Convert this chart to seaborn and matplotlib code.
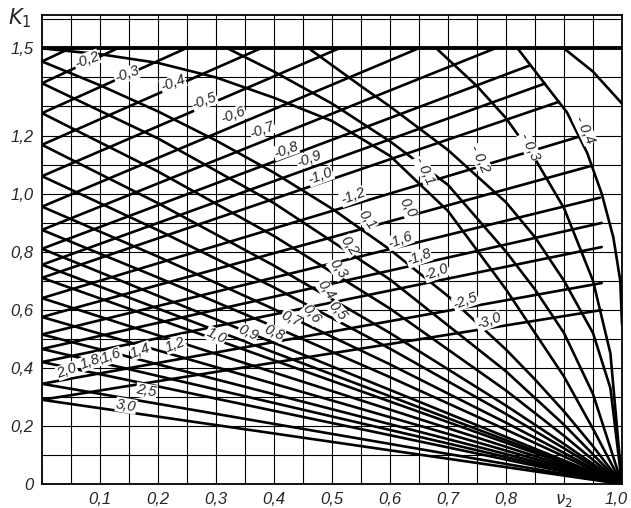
import numpy as np
import pandas as pd
import seaborn as sns
import matplotlib.pyplot as plt
from matplotlib.transforms import ScaledTranslation

sns.set_style("white")
plt.rcParams['font.family'] = ['Liberation Sans Narrow', 'Liberation Sans', 'DejaVu Sans']

# straight falling lines, all run to (1.0, 0)
straight_names = ["3,0", "2,5", "2,0", "1,8", "1,6", "1,4", "1,2", "1,0", "0,9", "0,8"]
straight_k0 = [0.29, 0.345, 0.42, 0.465, 0.515, 0.575, 0.64, 0.71, 0.755, 0.81]

# slightly bent falling curves
bent_nu = [0, 0.2, 0.4, 0.6, 0.8, 0.9, 1.0]
bent_07 = [0.875, 0.711, 0.542, 0.368, 0.187, 0.095, 0]
bent_06 = [0.955, 0.783, 0.602, 0.412, 0.211, 0.107, 0]
bent_05 = [1.06, 0.874, 0.677, 0.466, 0.241, 0.123, 0]
bent_04 = [1.168, 0.967, 0.752, 0.520, 0.270, 0.138, 0]
bent_03 = [1.277, 1.076, 0.854, 0.604, 0.322, 0.166, 0]
bent_02 = [1.38, 1.19, 0.967, 0.704, 0.388, 0.204, 0]

fine_nu = [0, 0.1, 0.2, 0.3, 0.4, 0.5, 0.6, 0.7, 0.8, 0.85, 0.9, 0.95, 1.0]
curve_01 = [1.455, 1.373, 1.283, 1.183, 1.072, 0.948, 0.807, 0.647, 0.463, 0.36, 0.25, 0.13, 0]
curve_00 = [1.5, 1.48, 1.45, 1.40, 1.33, 1.25, 1.13, 0.94, 0.67, 0.52, 0.37, 0.19, 0]

# arcs starting on the K1 = 1.5 line
arc_m01_nu = [0.32, 0.4, 0.5, 0.6, 0.7, 0.8, 0.85, 0.9, 0.95, 1.0]
arc_m01_k = [1.5, 1.42, 1.31, 1.18, 1.03, 0.80, 0.67, 0.52, 0.31, 0]
arc_m02_nu = [0.46, 0.55, 0.6, 0.7, 0.8, 0.85, 0.9, 0.95, 0.98, 1.0]
arc_m02_k = [1.5, 1.37, 1.30, 1.15, 0.97, 0.85, 0.70, 0.52, 0.33, 0]
arc_m03_nu = [0.68, 0.75, 0.8, 0.85, 0.9, 0.95, 0.98, 1.0]
arc_m03_k = [1.5, 1.37, 1.26, 1.12, 0.95, 0.70, 0.45, 0]
arc_m04_nu = [0.82, 0.87, 0.905, 0.94, 0.965, 0.985, 0.997, 1.0]
arc_m04_k = [1.5, 1.37, 1.28, 1.14, 1.0, 0.85, 0.7, 0.55]
arc_edge_nu = [0.90, 0.95, 1.0]
arc_edge_k = [1.5, 1.42, 1.31]

# rising lines, start on the left edge
rise_k0 = [1.455, 1.38, 1.277, 1.168, 1.06, 0.955, 0.875, 0.81, 0.755, 0.71,
           0.64, 0.575, 0.515, 0.465, 0.42, 0.345, 0.29]
rise_end_nu = [0.048, 0.13, 0.248, 0.377, 0.512, 0.649, 0.781, 0.842, 0.867, 0.891,
               0.926, 0.948, 0.962, 0.965, 0.965, 0.965, 0.965]
rise_end_k = [1.5, 1.5, 1.5, 1.5, 1.5, 1.5, 1.5, 1.442, 1.379, 1.316,
              1.196, 1.096, 0.986, 0.899, 0.816, 0.692, 0.599]

# curve labels
fall_lab = ["3,0", "2,5", "2,0", "1,8", "1,6", "1,4", "1,2", "1,0", "0,9", "0,8", "0,7",
            "0,6", "0,5", "0,4", "0,3", "0,2", "0,1", "0,0"]
fall_lab_x = [0.145, 0.18, 0.043, 0.083, 0.12, 0.17, 0.23, 0.30, 0.355, 0.40, 0.43,
              0.465, 0.51, 0.49, 0.51, 0.53, 0.56, 0.63]
fall_lab_y = [0.27, 0.32, 0.39, 0.42, 0.44, 0.46, 0.48, 0.51, 0.52, 0.52, 0.57,
              0.585, 0.595, 0.67, 0.74, 0.82, 0.91, 0.95]
fall_lab_rot = [-10, -10, 20, 20, 20, 20, 20, -25, -25, -25, -25,
                -50, -50, -55, -55, -55, -55, -60]

rise_lab = ["-0,2", "-0,3", "-0,4", "-0,5", "-0,6", "-0,7", "-0,8", "-0,9", "-1,0",
            "-1,2", "-1,6", "-1,8", "-2,0", "-2,5", "-3,0"]
rise_lab_x = [0.077, 0.146, 0.226, 0.28, 0.33, 0.38, 0.42, 0.46, 0.48,
              0.536, 0.617, 0.65, 0.68, 0.73, 0.77]
rise_lab_y = [1.46, 1.41, 1.38, 1.32, 1.27, 1.22, 1.15, 1.12, 1.06,
              0.99, 0.84, 0.78, 0.73, 0.63, 0.56]

arc_lab = ["- 0,1", "- 0,2", "- 0,3", "- 0,4"]
arc_lab_x = [0.66, 0.755, 0.84, 0.936]
arc_lab_y = [1.08, 1.12, 1.16, 1.22]

x_tick_pos = [0.1, 0.2, 0.3, 0.4, 0.5, 0.6, 0.7, 0.8, 0.9, 1.0]
x_tick_text = ["0,1", "0,2", "0,3", "0,4", "0,5", "0,6", "0,7", "0,8", r"$\nu_2$", "1,0"]
y_tick_pos = [0, 0.2, 0.4, 0.6, 0.8, 1.0, 1.2, 1.5]
y_tick_text = ["0", "0,2", "0,4", "0,6", "0,8", "1,0", "1,2", "1,5"]

# collect everything in one long table for seaborn
rows = []
cid = 0
for k0 in straight_k0:
    rows += [(cid, 0.0, k0), (cid, 1.0, 0.0)]
    cid += 1
for ks in [bent_07, bent_06, bent_05, bent_04, bent_03, bent_02]:
    rows += [(cid, n, k) for n, k in zip(bent_nu, ks)]
    cid += 1
for ks in [curve_01, curve_00]:
    rows += [(cid, n, k) for n, k in zip(fine_nu, ks)]
    cid += 1
for ns, ks in [(arc_m01_nu, arc_m01_k), (arc_m02_nu, arc_m02_k), (arc_m03_nu, arc_m03_k),
               (arc_m04_nu, arc_m04_k), (arc_edge_nu, arc_edge_k)]:
    rows += [(cid, n, k) for n, k in zip(ns, ks)]
    cid += 1
for k0, n1, k1 in zip(rise_k0, rise_end_nu, rise_end_k):
    rows += [(cid, 0.0, k0), (cid, n1, k1)]
    cid += 1
df = pd.DataFrame(rows, columns=["curve", "nu", "K"])

fig = plt.figure(figsize=(6.31, 5.08), dpi=100)
ax = fig.add_axes([42 / 631, 24 / 508, 580 / 631, 469 / 508])

# grid
for gx in np.arange(0.05, 0.999, 0.05):
    ax.axvline(gx, color="black", lw=0.8, zorder=1)
for gy in np.arange(0.1, 1.61, 0.1):
    ax.axhline(gy, color="black", lw=0.8, zorder=1)

sns.lineplot(data=df, x="nu", y="K", units="curve", estimator=None, sort=False,
             color="black", lw=1.9, ax=ax, zorder=3)
ax.plot([0, 1], [1.5, 1.5], color="black", lw=2.8, zorder=3)

lab_kw = dict(ha="center", va="center", fontsize=10.5, fontstyle="italic", zorder=5,
              bbox=dict(fc="white", ec="none", pad=0.3))
for t, x, y, r in zip(fall_lab, fall_lab_x, fall_lab_y, fall_lab_rot):
    ax.text(x, y, t, rotation=r, **lab_kw)
for t, x, y in zip(rise_lab, rise_lab_x, rise_lab_y):
    ax.text(x, y, t, rotation=20, **lab_kw)
for t, x, y in zip(arc_lab, arc_lab_x, arc_lab_y):
    ax.text(x, y, t, rotation=-65, **lab_kw)

ax.set_xlim(0, 1.0)
ax.set_ylim(0, 1.615)
ax.set_xlabel("")
ax.set_ylabel("")
ax.set_xticks(x_tick_pos)
ax.set_xticklabels(x_tick_text, fontstyle="italic", fontsize=12)
ax.set_yticks(y_tick_pos)
ax.set_yticklabels(y_tick_text, fontstyle="italic", fontsize=12)
ax.set_xticks(np.arange(0.01, 1.0, 0.01), minor=True)
ax.set_yticks(np.arange(0.02, 1.5, 0.02), minor=True)
ax.tick_params(which="major", length=0, pad=6)
ax.tick_params(axis="x", which="minor", direction="in", length=7, width=0.8)
ax.tick_params(axis="y", which="minor", direction="in", length=11, width=0.8)
for s in ax.spines.values():
    s.set_color("black")
    s.set_linewidth(1.3)

# keep the last x label inside the picture
last = ax.get_xticklabels()[-1]
last.set_transform(last.get_transform() + ScaledTranslation(-0.06, 0, fig.dpi_scale_trans))

fig.text(0.012, 0.952, r"$K_1$", fontsize=15)

fig.savefig("out.png", dpi=100)
